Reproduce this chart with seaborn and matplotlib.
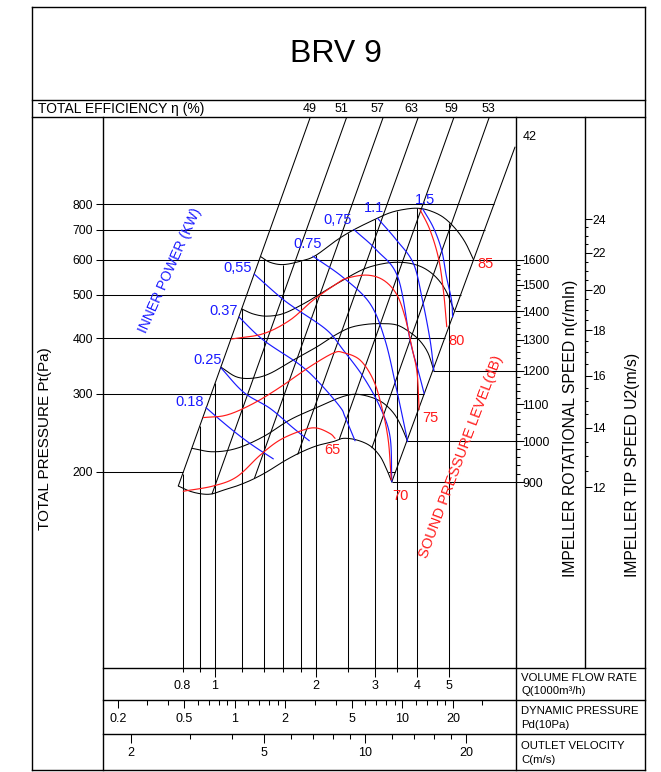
import numpy as np
import matplotlib
matplotlib.use("Agg")
import matplotlib.pyplot as plt
import matplotlib.transforms as mtransforms
from matplotlib.lines import Line2D
from matplotlib.ticker import FixedLocator, FixedFormatter, NullFormatter, NullLocator
import seaborn as sns

sns.set_theme(style="ticks", rc={"axes.edgecolor": "black", "xtick.color": "black",
                                 "ytick.color": "black", "text.color": "black"})
plt.rcParams["font.family"] = ["Liberation Sans", "DejaVu Sans"]

# ---------------- fan curves: Q in 1000 m3/h, total pressure in Pa ----------------
q_1600 = [1.367, 1.459, 1.596, 1.794, 1.988, 2.309, 2.582, 2.963, 3.330, 3.691, 4.036, 4.384, 4.794, 5.206, 5.577, 5.91]
p_1600 = [610, 592, 585, 595, 612, 664, 699, 736, 765, 779, 783, 773, 748, 706, 657, 600]
q_1400 = [1.202, 1.301, 1.427, 1.599, 1.842, 2.106, 2.362, 2.772, 3.180, 3.566, 3.927, 4.265, 4.600, 4.893, 5.19]
p_1400 = [465, 453, 448, 454, 478, 508, 535, 571, 588, 592, 586, 571, 545, 510, 459]
q_1200 = [1.042, 1.161, 1.302, 1.459, 1.714, 2.012, 2.282, 2.529, 2.804, 3.108, 3.485, 3.820, 4.092, 4.324, 4.50]
p_1200 = [344, 327, 325, 333, 357, 382, 406, 422, 429, 431, 428, 412, 394, 370, 338]
q_1000 = [0.854, 0.986, 1.161, 1.393, 1.675, 2.012, 2.362, 2.618, 2.902, 3.173, 3.415, 3.591, 3.76]
p_1000 = [226, 222, 226, 240, 262, 279, 294, 299, 295, 286, 271, 254, 234]
q_900 = [0.777, 0.842, 0.913, 0.978, 1.059, 1.161, 1.287, 1.427, 1.599, 1.794, 2.012, 2.254, 2.414, 2.648, 2.902, 3.108, 3.259, 3.37]
p_900 = [186, 181, 178.5, 178.5, 182, 186, 192, 200, 211, 221, 229, 234, 238, 236, 229, 217, 202, 190]
speeds = [1600, 1400, 1200, 1000, 900]

# efficiency rays (top end / bottom end)
eff_labels = ["49", "51", "57", "63", "59", "53", "42"]
eff_top_q = [1.926, 2.473, 3.179, 4.045, 5.17, 6.59, 7.86]
eff_top_p = [1256, 1256, 1256, 1256, 1256, 1256, 1075]
eff_bot_q = [0.777, 0.980, 1.312, 1.766, 2.352, 2.94, 3.37]
eff_bot_p = [186, 178.5, 193.8, 219.1, 237.5, 226.7, 190]
eff_label_q = [1.921, 2.389, 3.05, 3.844, 5.09, 6.53, 8.68]

# inner power lines (kW)
pw_018_q = [0.940, 1.035, 1.161, 1.301, 1.493]
pw_018_p = [279, 262, 244, 229, 214]
pw_025_q = [1.041, 1.218, 1.459, 1.713, 1.912]
pw_025_p = [343, 302, 278, 251, 235]
pw_037_q = [1.179, 1.393, 1.794, 2.058, 2.362, 2.444, 2.618]
pw_037_p = [446, 396, 348, 316, 280, 266, 235]
pw_055_q = [1.309, 1.563, 1.733, 2.155, 2.414, 2.772, 3.108, 3.330, 3.37]
pw_055_p = [557, 495, 467, 417, 376, 327, 280, 240, 190]
pw_075a_q = [1.96, 2.414, 2.902, 3.217, 3.485, 3.76]
pw_075a_p = [611, 547, 478, 396, 306, 234]
pw_075b_q = [2.599, 3.039, 3.514, 3.820, 4.036, 4.21]
pw_075b_p = [701, 630, 548, 396, 339, 300]
pw_11_q = [3.060, 3.482, 3.912, 4.16, 4.384, 4.50]
pw_11_p = [743, 664, 588, 487, 396, 338]
pw_15_q = [4.17, 4.487, 4.748, 4.908, 5.079, 5.12]
pw_15_p = [780, 708, 630, 549, 487, 446]
power_labels = ["0.18", "0.25", "0.37", "0,55", "0.75", "0,75", "1.1", "1.5"]
power_label_q = [0.842, 0.95, 1.06, 1.171, 1.895, 2.329, 2.98, 4.236]
power_label_p = [287, 357, 461, 574, 650, 736, 785, 816]

# sound pressure level lines (dB)
snd_65_q = [0.804, 0.988, 1.161, 1.362, 1.563, 1.835, 2.012, 2.204, 2.282]
snd_65_p = [181, 186, 195, 218, 236, 248.5, 251, 244, 238]
snd_70_q = [0.923, 1.084, 1.301, 1.563, 1.921, 2.254, 2.414, 2.709, 2.969, 3.145, 3.289, 3.357]
snd_70_p = [265, 268.5, 285, 310, 345, 370, 371, 357, 322, 280, 236, 192]
snd_75_q = [1.121, 1.393, 1.675, 1.965, 2.309, 2.472, 2.837, 3.180, 3.482, 3.691, 3.867, 4.01, 4.066]
snd_75_p = [398, 409, 439, 487, 530, 545, 554, 540, 502, 446, 382, 334, 276]
snd_80_q = [4.092, 4.384, 4.645, 4.804, 4.918]
snd_80_p = [778, 699, 605, 512, 424]
sound_labels = ["65", "70", "75", "80", "85"]
sound_label_q = [2.24, 3.57, 4.39, 5.25, 6.41]
sound_label_p = [224, 177, 265, 394, 586]

# axis ticks
pressure_ticks = [200, 300, 400, 500, 600, 700, 800]
q_major = [1, 2, 3, 4, 5]
q_minor = [0.8, 0.9, 1.2, 1.4, 1.6, 1.8, 2.5, 3.5]
pd_major = [0.2, 0.5, 1, 2, 5, 10, 20]
pd_minor = [0.3, 0.4, 0.6, 0.7, 0.8, 0.9, 1.2, 1.4, 1.6, 1.8, 3, 4, 6, 7, 8, 9, 12, 14, 16, 18, 30]
c_major = [2, 5, 10, 20]
c_minor = [3, 4, 6, 7, 8, 9, 12, 14, 16, 18]
speed_major = [900, 1000, 1100, 1200, 1300, 1400, 1500, 1600]
speed_minor = [v for v in range(900, 1601, 20) if v % 100]
tip_major = [12, 14, 16, 18, 20, 22, 24]
tip_minor = [v for v in np.arange(12, 24.01, 0.5) if v % 2]

# fan constants
outlet_area = 0.078      # m2
air_density = 1.2        # kg/m3
impeller_d = 0.258       # m
p_ref, n_ref = 600.0, 1600.0

BLUE = "#1a1aff"
RED = "#ff1a1a"

# ---------------- figure / table frame ----------------
W, H = 661, 772
fig = plt.figure(figsize=(W / 100, H / 100), dpi=100, facecolor="white")
fx = lambda x: x / W
fy = lambda y: 1 - y / H


def frame_line(x0, y0, x1, y1, lw=1.0):
    fig.add_artist(Line2D([fx(x0), fx(x1)], [fy(y0), fy(y1)], transform=fig.transFigure,
                          color="black", lw=lw, solid_capstyle="projecting"))


plot_rect = [fx(103), fy(668), fx(516) - fx(103), fy(117) - fy(668)]
ax = fig.add_axes(plot_rect)
ax.set_xscale("log")
ax.set_yscale("log")
ax.set_xlim(0.4631, 7.914)
ax.set_ylim(72.5, 1255.8)
ax.patch.set_visible(False)
for s in ax.spines.values():
    s.set_visible(False)


def catmull_rom(q, p, n=12):
    pts = np.column_stack([np.log10(q), np.log10(p)])
    if len(pts) < 3:
        return np.asarray(q), np.asarray(p)
    ext = np.vstack([2 * pts[0] - pts[1], pts, 2 * pts[-1] - pts[-2]])
    out = []
    for i in range(1, len(ext) - 2):
        p0, p1, p2, p3 = ext[i - 1], ext[i], ext[i + 1], ext[i + 2]
        for t in np.linspace(0, 1, n, endpoint=False):
            out.append(0.5 * (2 * p1 + (-p0 + p2) * t + (2 * p0 - 5 * p1 + 4 * p2 - p3) * t * t
                              + (-p0 + 3 * p1 - 3 * p2 + p3) * t ** 3))
    out.append(pts[-1])
    out = np.array(out)
    return 10 ** out[:, 0], 10 ** out[:, 1]


def draw(q, p, color="black", lw=0.75, smooth=True, z=2):
    if smooth:
        q, p = catmull_rom(q, p)
    sns.lineplot(x=np.asarray(q), y=np.asarray(p), ax=ax, color=color, lw=lw, sort=False,
                 estimator=None, legend=False, zorder=z)


def log_interp(v, xs, ys):
    return 10 ** np.interp(np.log10(v), np.log10(xs), np.log10(ys))


lb_q, lb_p = [eff_bot_q[0], eff_top_q[0]], [eff_bot_p[0], eff_top_p[0]]
rb_q, rb_p = [eff_bot_q[-1], eff_top_q[-1]], [eff_bot_p[-1], eff_top_p[-1]]
q_min, q_max = ax.get_xlim()
p_min, p_max = ax.get_ylim()

# pressure grid lines (end on the right boundary ray)
for P in pressure_ticks:
    q_right = log_interp(P, rb_p, rb_q)
    if P == 200:
        i_pk = int(np.argmax(p_900))
        q_desc = log_interp(P, p_900[i_pk:][::-1], q_900[i_pk:][::-1])
        ax.hlines(P, q_min, log_interp(P, lb_p, lb_q), color="black", lw=0.75)
        ax.hlines(P, q_desc, q_right, color="black", lw=0.75)
    else:
        ax.hlines(P, q_min, q_right, color="black", lw=0.75)

# speed lines from the end of each curve to the speed axis
for n in speeds:
    P = p_ref * (n / n_ref) ** 2
    ax.hlines(P, log_interp(P, rb_p, rb_q), q_max, color="black", lw=0.75)

# vertical flow-rate lines up to the top envelope
for q in q_minor + q_major:
    if q <= q_1600[0]:
        top = log_interp(q, lb_q, lb_p)
    else:
        top = log_interp(q, q_1600, p_1600)
    ax.vlines(q, p_min, top, color="black", lw=0.75)

# efficiency rays
for tq, tp, bq, bp in zip(eff_top_q, eff_top_p, eff_bot_q, eff_bot_p):
    draw([bq, tq], [bp, tp], smooth=False)

# speed curves
for q, p in [(q_1600, p_1600), (q_1400, p_1400), (q_1200, p_1200), (q_1000, p_1000), (q_900, p_900)]:
    draw(q, p)

# power lines
for q, p in [(pw_018_q, pw_018_p), (pw_025_q, pw_025_p), (pw_037_q, pw_037_p), (pw_055_q, pw_055_p),
             (pw_075a_q, pw_075a_p), (pw_075b_q, pw_075b_p), (pw_11_q, pw_11_p), (pw_15_q, pw_15_p)]:
    draw(q, p, color=BLUE, lw=0.85, z=3)

# sound lines
for q, p in [(snd_65_q, snd_65_p), (snd_70_q, snd_70_p), (snd_75_q, snd_75_p), (snd_80_q, snd_80_p)]:
    draw(q, p, color=RED, lw=0.85, z=3)

for s, q, p in zip(power_labels, power_label_q, power_label_p):
    ax.text(q, p, s, color=BLUE, fontsize=10.5, ha="center", va="center", zorder=4)
for s, q, p in zip(sound_labels, sound_label_q, sound_label_p):
    ax.text(q, p, s, color=RED, fontsize=10.5, ha="center", va="center", zorder=4)

ax.text(0.734, 568, "INNER POWER (KW)", color=BLUE, fontsize=10, rotation=66,
        ha="center", va="center", rotation_mode="anchor")
ax.text(5.42, 216, "SOUND PRESSURE LEVEL(dB)", color=RED, fontsize=10.5, rotation=69.5,
        ha="center", va="center", rotation_mode="anchor")

# efficiency values in the header row
blend = mtransforms.blended_transform_factory(ax.transData, fig.transFigure)
for s, q in zip(eff_labels[:-1], eff_label_q[:-1]):
    ax.text(q, fy(108.5), s, transform=blend, fontsize=9, ha="center", va="center")
ax.text(eff_label_q[-1], 1134, eff_labels[-1], fontsize=9, ha="center", va="center", clip_on=False)

# ---------------- axes ----------------
ax.yaxis.set_major_locator(FixedLocator(pressure_ticks))
ax.yaxis.set_major_formatter(FixedFormatter([str(v) for v in pressure_ticks]))
ax.yaxis.set_minor_locator(NullLocator())
ax.tick_params(axis="y", which="major", left=True, right=False, direction="out", length=5,
               width=0.75, pad=2.2, labelsize=8.8)

ax.xaxis.set_major_locator(FixedLocator(q_major))
ax.xaxis.set_major_formatter(FixedFormatter([str(v) for v in q_major]))
ax.xaxis.set_minor_locator(FixedLocator(q_minor))
ax.xaxis.set_minor_formatter(FixedFormatter(["0.8"] + [""] * (len(q_minor) - 1)))
ax.tick_params(axis="x", which="major", bottom=True, direction="out", length=6.5, width=0.75,
               pad=2.0, labelsize=9)
ax.tick_params(axis="x", which="minor", bottom=True, direction="out", length=3.1, width=0.75,
               pad=5.4, labelsize=9)


def p_to_n(p):
    return n_ref * np.sqrt(np.asarray(p) / p_ref)


def n_to_u(n):
    return np.pi * impeller_d * np.asarray(n) / 60


SIDE_W = 10  # px width of the scale strip that carries the tick marks


def side_axis(x_px, lims, major, minor, major_len, minor_len, label_x_px):
    """Log-scaled vertical scale drawn on a column line of the table."""
    a = fig.add_axes([fx(x_px), plot_rect[1], fx(SIDE_W), plot_rect[3]])
    a.set_yscale("log")
    a.set_ylim(*lims)
    a.set_xlim(0, 1)
    a.set_xticks([])
    a.patch.set_visible(False)
    for s in a.spines.values():
        s.set_visible(False)
    a.yaxis.set_major_locator(FixedLocator(major))
    a.yaxis.set_major_formatter(FixedFormatter([f"{v:g}" for v in major]))
    a.yaxis.set_minor_locator(NullLocator())
    a.tick_params(axis="y", which="both", left=False, right=False, length=0)
    a.tick_params(axis="y", which="major", labelleft=False, labelright=True,
                  pad=(label_x_px - x_px - SIDE_W) * 0.72, labelsize=8.8)
    # tick marks pointing into the column
    a.hlines(major, 0, major_len / 0.72 / SIDE_W, color="black", lw=0.75, clip_on=False)
    a.hlines(minor, 0, minor_len / 0.72 / SIDE_W, color="black", lw=0.75, clip_on=False)
    return a


n_lims = (p_to_n(p_min), p_to_n(p_max))
side_axis(516, n_lims, speed_major, speed_minor, 5.8, 3.0, 522)
side_axis(585, (n_to_u(n_lims[0]), n_to_u(n_lims[1])), tip_major, tip_minor, 4.8, 2.4, 592)


def q_to_c(q):
    return np.asarray(q) * 1000 / 3600 / outlet_area


def c_to_pd(c):
    return 0.5 * air_density * np.asarray(c) ** 2 / 10


def scale_row(ytop, lims, major, minor, major_len, minor_len, pad):
    a = fig.add_axes([fx(103), fy(ytop) - 1e-5, fx(516) - fx(103), 1e-5])
    a.set_xscale("log")
    a.set_xlim(*lims)
    a.set_yticks([])
    a.patch.set_visible(False)
    for s in a.spines.values():
        s.set_visible(False)
    a.xaxis.set_major_locator(FixedLocator(major))
    a.xaxis.set_major_formatter(FixedFormatter([f"{v:g}" for v in major]))
    a.xaxis.set_minor_locator(FixedLocator(minor))
    a.xaxis.set_minor_formatter(NullFormatter())
    a.tick_params(axis="x", which="major", bottom=True, direction="out", length=major_len,
                  width=0.75, pad=pad, labelsize=9)
    a.tick_params(axis="x", which="minor", bottom=True, direction="out", length=minor_len, width=0.75)
    return a


scale_row(700, (c_to_pd(q_to_c(q_min)), c_to_pd(q_to_c(q_max))), pd_major, pd_minor, 5.8, 3.5, 3.6)
scale_row(734, (q_to_c(q_min), q_to_c(q_max)), c_major, c_minor, 6.5, 3.5, 2.8)

# ---------------- table lines and texts ----------------
frame_line(32, 7, 645, 7)
frame_line(32, 770, 645, 770)
frame_line(32, 7, 32, 770)
frame_line(645, 7, 645, 770)
frame_line(32, 100, 645, 100)
frame_line(32, 117, 645, 117)
frame_line(103, 117, 103, 770)
frame_line(516, 117, 516, 770)
frame_line(585, 117, 585, 668)
frame_line(103, 668, 645, 668)
frame_line(103, 700, 645, 700)
frame_line(103, 734, 645, 734)

fig.text(fx(336), fy(54), "BRV 9", fontsize=23, ha="center", va="center")
fig.text(fx(38), fy(108.5), "TOTAL EFFICIENCY η (%)", fontsize=10, ha="left", va="center")
fig.text(fx(45), fy(439), "TOTAL PRESSURE Pt(Pa)", fontsize=11, rotation=90, ha="center", va="center")
fig.text(fx(571), fy(577), "IMPELLER ROTATIONAL SPEED n(r/mIn)", fontsize=11.3, rotation=90,
         rotation_mode="anchor", ha="left", va="center")
fig.text(fx(633), fy(577), "IMPELLER TIP SPEED U2(m/s)", fontsize=11.3, rotation=90,
         rotation_mode="anchor", ha="left", va="center")

row_text = [("VOLUME FLOW RATE", 678), ("Q(1000m³/h)", 691.5), ("DYNAMIC PRESSURE", 711),
            ("Pd(10Pa)", 725), ("OUTLET VELOCITY", 746), ("C(m/s)", 760)]
for s, y in row_text:
    fig.text(fx(521), fy(y), s, fontsize=8.2, ha="left", va="center")

fig.savefig("out.png", dpi=100)
